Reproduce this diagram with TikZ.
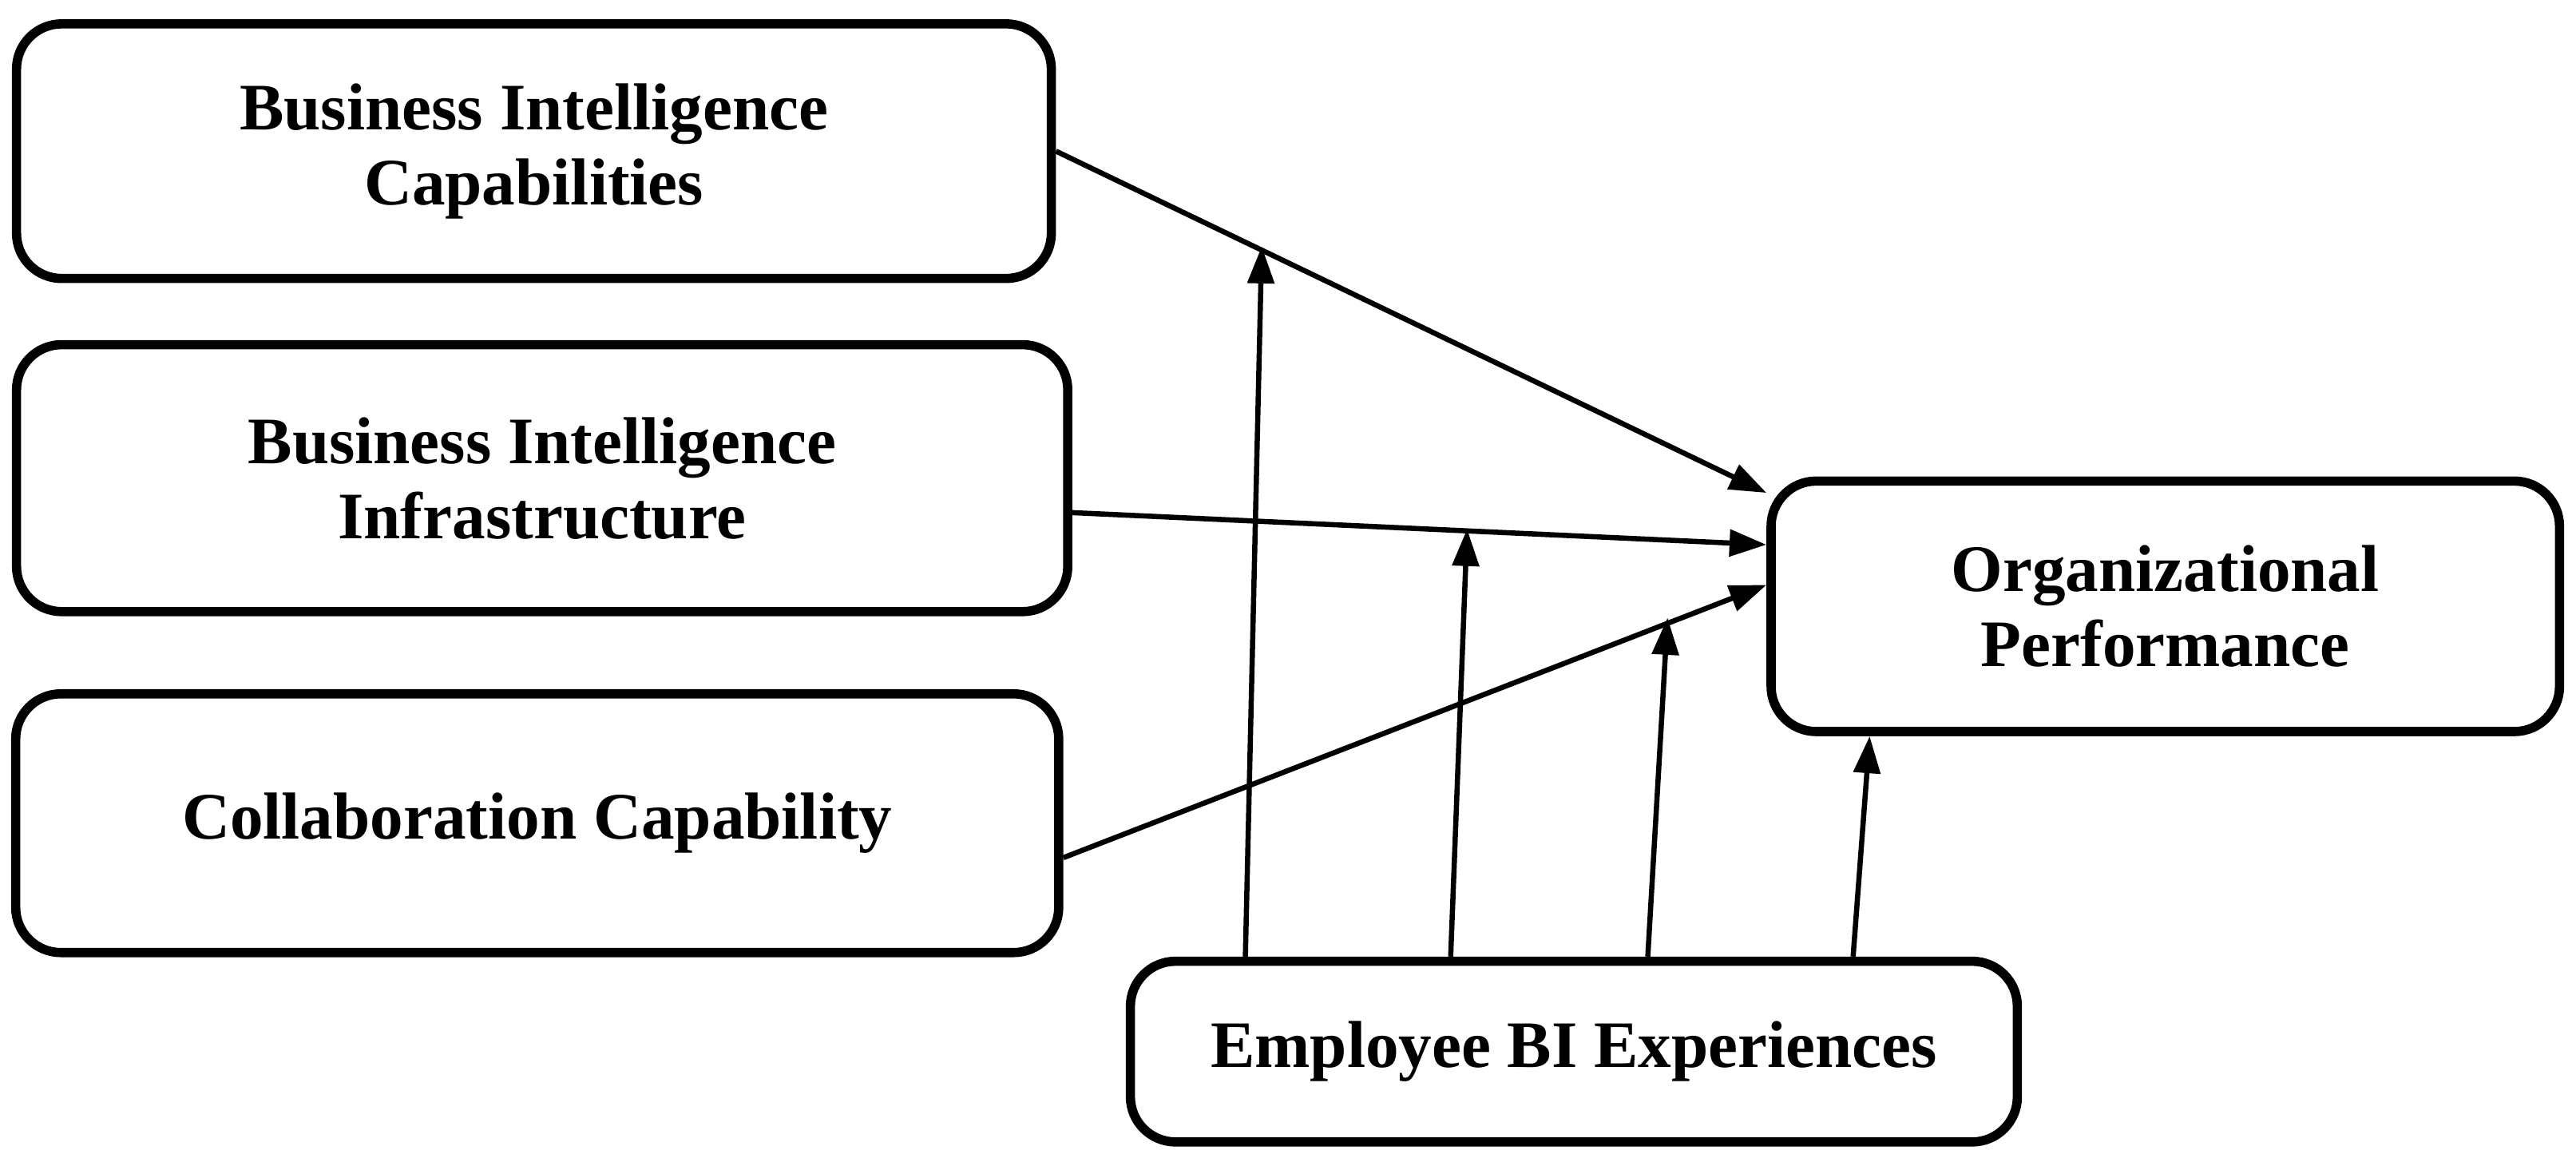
\documentclass[tikz,border=0pt]{standalone}
\usepackage{fontspec}
\setmainfont{Liberation Serif}
\usetikzlibrary{arrows.meta}
\begin{document}
\begin{tikzpicture}[x=0.02cm, y=-0.02cm,
    box/.style={
        draw,
        line width=3.2pt,
        rounded corners=0.55cm,
        align=center,
        font=\bfseries\fontsize{23}{26}\selectfont
    },
    link/.style={
        -{Triangle[length=0.45cm, width=0.32cm]},
        line width=1.8pt
    }
]

\useasboundingbox (0,0) rectangle (1568,712);

% --- Boxes ---
\node[box, minimum width=12.6cm, minimum height=3.1cm] (bic) at (325,92) {Business Intelligence\\Capabilities};
\node[box, minimum width=12.8cm, minimum height=3.25cm] (bii) at (330,291) {Business Intelligence\\Infrastructure};
\node[box, minimum width=12.7cm, minimum height=3.15cm] (cc) at (327,501) {Collaboration Capability};
\node[box, minimum width=9.6cm, minimum height=3.05cm] (op) at (1318,369) {Organizational\\Performance};
\node[box, minimum width=10.8cm, minimum height=2.2cm] (ebe) at (958,640) {Employee BI Experiences};

% --- Direct paths ---
\draw[link] (bic.east) -- ([yshift=-0.2cm]op.north west);
\draw[link] ([yshift=-0.42cm]bii.east) -- ([yshift=0.75cm]op.west);
\draw[link] ([yshift=-0.42cm]cc.east) -- ([yshift=0.26cm]op.west);

% --- Moderating paths ---
\coordinate (m1) at (768,150);
\coordinate (m2) at (893,322);
\coordinate (m3) at (1015,376);
\draw[link] ([xshift=-4cm]ebe.north) -- (m1);
\draw[link] ([xshift=-1.5cm]ebe.north) -- (m2);
\draw[link] ([xshift=0.9cm]ebe.north) -- (m3);
\draw[link] ([xshift=3.4cm]ebe.north) -- ([xshift=-3.6cm]op.south);

\end{tikzpicture}
\end{document}
